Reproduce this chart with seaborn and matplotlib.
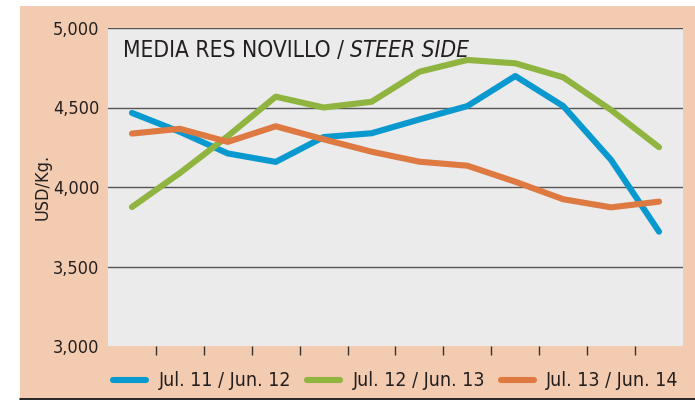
import numpy as np
import pandas as pd
import seaborn as sns
from matplotlib import pyplot as plt
from matplotlib.patches import Rectangle
from matplotlib.lines import Line2D

# Data (USD/Kg, monthly Jul..Jun)
months = ['Jul', 'Aug', 'Sep', 'Oct', 'Nov', 'Dec', 'Jan', 'Feb', 'Mar', 'Apr', 'May', 'Jun']
season_labels = ['Jul. 11 / Jun. 12', 'Jul. 12 / Jun. 13', 'Jul. 13 / Jun. 14']
season_11_12 = [4466, 4347, 4211, 4158, 4314, 4338, 4425, 4509, 4698, 4509, 4170, 3719]
season_12_13 = [3874, 4088, 4320, 4568, 4500, 4536, 4725, 4799, 4778, 4690, 4484, 4250]
season_13_14 = [4336, 4366, 4284, 4382, 4300, 4222, 4159, 4134, 4033, 3923, 3872, 3908]
y_ticks = [3000, 3500, 4000, 4500, 5000]

colors = ['#0a99cf', '#8fb43f', '#de7942']
salmon = '#f3cbb0'

df = pd.DataFrame({
    'month': list(range(len(months))) * 3,
    'value': season_11_12 + season_12_13 + season_13_14,
    'season': np.repeat(season_labels, len(months)),
})

sns.set_style('white')
plt.rcParams['font.family'] = ['DejaVu Sans']
plt.rcParams['font.stretch'] = 'condensed'

fig = plt.figure(figsize=(6.95, 4.0), dpi=100)
W, H = 695, 400

# salmon panel with white margins and black base line
fig.patches.append(Rectangle((20 / W, 2 / H), 675 / W, 392 / H, transform=fig.transFigure,
                             facecolor=salmon, edgecolor='none', zorder=0))
fig.lines.append(Line2D([20 / W, 1], [1.5 / H, 1.5 / H], transform=fig.transFigure,
                        color='black', lw=1.2))

ax = fig.add_axes([108 / W, (H - 346) / H, (683 - 108) / W, (346 - 28) / H])
ax.set_zorder(2)
ax.set_facecolor('#ebebeb')

sns.lineplot(data=df, x='month', y='value', hue='season', palette=colors,
             linewidth=4.4, ax=ax, legend=False, solid_capstyle='round')

ax.set_xlim(-0.5, len(months) - 0.5)
ax.set_ylim(3000, 5000)
ax.set_xticks(np.arange(0.5, len(months) - 1, 1.0))
ax.set_xticklabels([])
ax.set_yticks(y_ticks)
ax.set_yticklabels([f'{v:,}' for v in y_ticks], fontsize=13, color='#231f20')
ax.tick_params(axis='y', length=0, pad=6)
ax.tick_params(axis='x', direction='out', length=6.5, width=1, color='#333333', bottom=True)
ax.grid(axis='y', color='#555555', linewidth=1)
ax.yaxis.get_gridlines()[0].set_visible(False)
ax.set_axisbelow(True)
for s in ax.spines.values():
    s.set_visible(False)
ax.set_xlabel('')
ax.set_ylabel('USD/Kg.', fontsize=13, color='#231f20', labelpad=1)

t1 = ax.text(15 / 575, 1 - 11 / 318, 'MEDIA RES NOVILLO / ', transform=ax.transAxes,
             fontsize=16.3, color='#231f20', va='top', ha='left')
ax.annotate('STEER SIDE', xy=(1, 0), xycoords=t1, fontsize=16.3, color='#231f20',
            style='italic', va='bottom', ha='left')

handles = [Line2D([], [], color=c, lw=4.4, solid_capstyle='round') for c in colors]
fig.legend(handles, season_labels, loc='center', bbox_to_anchor=(396 / W, (H - 381) / H),
           ncol=3, frameon=False, fontsize=14, handlelength=1.7, handletextpad=0.65,
           columnspacing=0.8, labelcolor='#231f20')

fig.savefig('out.png', dpi=100)
